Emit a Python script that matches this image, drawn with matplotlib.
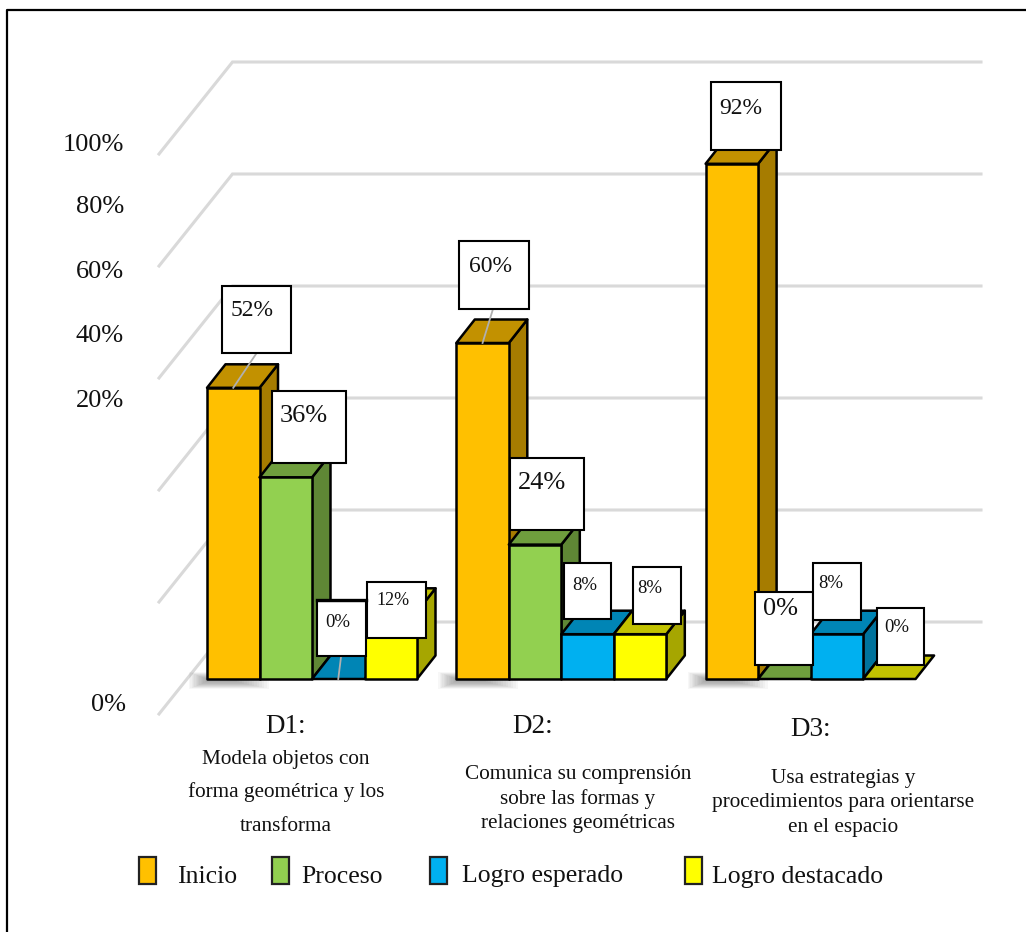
import matplotlib
matplotlib.use('Agg')
import matplotlib.pyplot as plt
from matplotlib.patches import Polygon, Rectangle

plt.rcParams['font.family'] = ['Liberation Serif', 'DejaVu Serif']

# values in percent per dimension
dims = ["D1:", "D2:", "D3:"]
dim_text = [
    ["Modela objetos con", "forma geométrica y los", "transforma"],
    ["Comunica su comprensión", "sobre las formas y", "relaciones geométricas"],
    ["Usa estrategias y", "procedimientos para orientarse", "en el espacio"],
]
series_names = ["Inicio", "Proceso", "Logro esperado", "Logro destacado"]
inicio = [52, 60, 92]
proceso = [36, 24, 0]
esperado = [0, 8, 8]
destacado = [12, 8, 0]
ticks = [0, 20, 40, 60, 80, 100]

series = [inicio, proceso, esperado, destacado]

# front, top, side colours of each series
colors = [
    ("#FFC000", "#C29100", "#A67C00"),
    ("#92D050", "#6F9E3D", "#5F8735"),
    ("#00B0F0", "#0085B5", "#00739D"),
    ("#FFFF00", "#C2C200", "#A6A600"),
]

W, H = 1026, 932
PX_X = 249.3   # pixels per group
PX_Y = 5.6     # pixels per percent
X0, Y0 = 207, 679


def fx(px):
    return (px - X0) / PX_X


def fy(py):
    return (Y0 - py) / PX_Y


fig = plt.figure(figsize=(W / 100, H / 100), dpi=100)
ax = fig.add_axes([0, 0, 1, 1])
ax.set_xlim(fx(0), fx(W))
ax.set_ylim(fy(H), fy(0))
ax.axis('off')

bar_w = 52.5 / PX_X
dx = 18.5 / PX_X
dy = 23.5 / PX_Y

# outer frame, only top and left are there
ax.plot([fx(7), fx(7), fx(W)], [fy(H), fy(10), fy(10)], color='black', lw=1.6, zorder=1)

# wall and side gridlines
back = fy(622)
front = fy(714)
for t in ticks:
    ax.plot([fx(159), fx(232.5), fx(981)], [front + t, back + t, back + t],
            color='#d9d9d9', lw=2.2, solid_joinstyle='miter', zorder=2)

# y labels sit a bit off the gridlines
tick_right = [126, 124, 124, 124, 124, 124]
tick_base = [711, 407, 342, 278, 213, 151]
for t, xr, yb in zip(ticks, tick_right, tick_base):
    ax.text(fx(xr), fy(yb), f"{t}%", fontsize=19, ha='right', va='baseline', color='#111111')

# soft shadow around the foot of the first bar of each group
for g in range(3):
    for k in range(14):
        left = X0 - 18 + 1.3 * k
        right = X0 + 62 - 2.5 * k
        top = 672 + 0.5 * k
        bottom = 689 - 0.55 * k
        ax.add_patch(Rectangle((g + fx(left), fy(bottom)), (right - left) / PX_X, (bottom - top) / PX_Y,
                               fc='#555555', ec='none', alpha=0.045, zorder=3))


def draw_bar(x, v, cols, z):
    front_c, top_c, side_c = cols
    style = dict(ec='black', lw=1.8, joinstyle='round', zorder=z)
    if v > 0:
        ax.add_patch(Polygon([(x + bar_w, 0), (x + bar_w + dx, dy), (x + bar_w + dx, v + dy), (x + bar_w, v)],
                             fc=side_c, **style))
    ax.add_patch(Polygon([(x, v), (x + dx, v + dy), (x + bar_w + dx, v + dy), (x + bar_w, v)],
                         fc=top_c, **style))
    if v > 0:
        ax.add_patch(Rectangle((x, 0), bar_w, v, fc=front_c, **style))


z = 4
for g in range(3):
    for s, vals in enumerate(series):
        draw_bar(g + s * bar_w, vals[g], colors[s], z)
        z += 1

# leader lines: series, group, x and y where they meet the box
leaders = [(0, 0, 256, 354), (0, 1, 493, 309), (2, 0, 341, 657)]
for s, g, bx, by in leaders:
    xc = g + (s + 0.5) * bar_w
    ax.plot([xc, fx(bx)], [series[s][g], fy(by)], color='#b0b0b0', lw=1.3, zorder=30)

# value boxes: series, group, left, top, right, bottom, text x, baseline, font size
boxes = [
    (0, 0, 222, 286, 291, 353, 252, 316, 17),
    (1, 0, 272, 391, 346, 463, 304, 422, 19),
    (2, 0, 317, 601, 366, 656, 338, 627, 13.5),
    (3, 0, 367, 582, 426, 638, 393, 605, 13),
    (0, 1, 459, 241, 529, 309, 490, 272, 17),
    (1, 1, 510, 458, 584, 530, 542, 489, 19),
    (2, 1, 564, 563, 611, 619, 585, 590, 13.5),
    (3, 1, 633, 567, 681, 624, 650, 593, 13.5),
    (0, 2, 711, 82, 781, 150, 741, 114, 17),
    (1, 2, 755, 592, 813, 665, 781, 615, 19),
    (2, 2, 813, 563, 861, 620, 831, 588, 13.5),
    (3, 2, 877, 608, 924, 665, 897, 632, 13.5),
]
for s, g, l, t, r, b, tx, ty, fs in boxes:
    ax.add_patch(Rectangle((fx(l), fy(b)), (r - l) / PX_X, (b - t) / PX_Y,
                           fc='white', ec='black', lw=1.5, joinstyle='miter', zorder=31))
    ax.text(fx(tx), fy(ty), f"{series[s][g]}%", fontsize=fs, ha='center', va='baseline',
            color='#111111', zorder=32)

# heavier top edge on the D1 zero box
ax.plot([fx(317), fx(366)], [fy(600), fy(600)], color='black', lw=2.4, zorder=33)

# group headings and descriptions
head_x = [286, 533, 811]
head_y = [733, 733, 736]
for name, xp, yp in zip(dims, head_x, head_y):
    ax.text(fx(xp), fy(yp), name, fontsize=19.5, ha='center', va='baseline', color='#111111')

desc_x = [286, 578, 843]
desc_y = [[764, 797, 831], [779, 804, 828], [783, 807, 832]]
for lines, xp, ys in zip(dim_text, desc_x, desc_y):
    for line, yp in zip(lines, ys):
        ax.text(fx(xp), fy(yp), line, fontsize=15.3, ha='center', va='baseline', color='#111111')

# hand placed legend
swatch_x = [139, 272, 430, 685]
label_x = [177, 301, 462, 712]
label_y = [883, 883, 882, 883]
for name, cols, sx, lx, ly in zip(series_names, colors, swatch_x, label_x, label_y):
    ax.add_patch(Rectangle((fx(sx), fy(884)), 17 / PX_X, 27 / PX_Y,
                           fc=cols[0], ec='#222222', lw=1.6, zorder=5))
    ax.text(fx(lx), fy(ly), name, fontsize=18.5, ha='left', va='baseline', color='#111111')

fig.savefig('out.png', dpi=100, facecolor='white')
